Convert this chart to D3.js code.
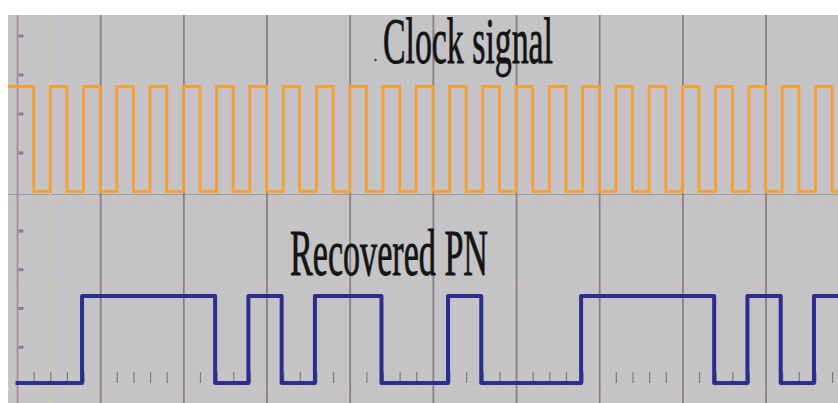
<!DOCTYPE html>
<html><head><meta charset="utf-8">
<script src="https://cdn.jsdelivr.net/npm/d3@7"></script>
<style>html,body{margin:0;padding:0;background:#fff;overflow:hidden}svg{display:block}</style>
</head><body>
<svg id="chart" width="838" height="403"></svg>
<script>
// ---- data (time in clock periods) ----
const clockStartLevel = 1; // level shown before t = 0
const clockLevels = [1,0,1,0,1,0,1,0,1,0, 1,0,1,0,1,0,1,0,1,0,
                     1,0,1,0,1,0,1,0,1,0, 1,0,1,0,1,0,1,0,1,0,
                     1,0,1,0,1,0,1,0,1,0]; // one value per half period from t = 0
const pnBits = [0,0,1,1,1,1,0,1,0,1,1,0,0,1,0,0,0,1,1,1,1,0,1,0,1]; // one per clock period
const gridTimes = [0,2.5,5,7.5,10,12.5,15,17.5,20,22.5,25];
const minorTickTimes = [0.5,1,1.5,2,3,3.5,4,4.5,5.5,6,6.5,7,8,8.5,9,9.5,10.5,11,11.5,12,13,13.5,14,14.5,
                        15.5,16,16.5,17,18,18.5,19,19.5,20.5,21,21.5,22,23,23.5,24,24.5];
const yDivTicks = [1,2,3,4];
const labels = {clock: "Clock signal", pn: "Recovered PN"};

const svg = d3.select("#chart");
const W = 838, H = 403;
const P = {left: 8, top: 15, right: 838, bottom: 403};

const x = d3.scaleLinear().domain([0, 25]).range([17, 17 + 25 * 33.27]);
const yClock = d3.scaleLinear().domain([0, 1]).range([191.5, 86.5]);
const yPN = d3.scaleLinear().domain([0, 1]).range([383, 296]);
const yDivTop = d3.scaleLinear().domain([0, 4]).range([192, 36]);
const yDivBot = d3.scaleLinear().domain([0, 4]).range([386, 231]);

svg.append("rect").attr("width", W).attr("height", H).attr("fill", "#ffffff");
svg.append("defs").append("clipPath").attr("id", "clip")
  .append("rect").attr("x", P.left).attr("y", P.top).attr("width", P.right - P.left).attr("height", P.bottom - P.top);

const g = svg.append("g").attr("clip-path", "url(#clip)");
g.append("rect").attr("x", P.left).attr("y", P.top).attr("width", P.right - P.left).attr("height", P.bottom - P.top)
  .attr("fill", "#c4c4c6");

// faint horizontal marker lines
g.append("line").attr("x1", P.left).attr("x2", P.right).attr("y1", 194.5).attr("y2", 194.5)
  .attr("stroke", "#9c9aa2").attr("stroke-width", 1.2);
g.append("line").attr("x1", P.left).attr("x2", P.right).attr("y1", 200.5).attr("y2", 200.5)
  .attr("stroke", "#dcb88a").attr("stroke-width", 1).attr("stroke-dasharray", "3,3");
g.append("line").attr("x1", P.left).attr("x2", P.right).attr("y1", 282.5).attr("y2", 282.5)
  .attr("stroke", "#cfc4ae").attr("stroke-width", 1);
g.append("line").attr("x1", P.left).attr("x2", P.right).attr("y1", 388.5).attr("y2", 388.5)
  .attr("stroke", "#d9c6c0").attr("stroke-width", 1.2).attr("stroke-dasharray", "3,2");

// dashed yellow cursor
g.append("line").attr("x1", x(1)).attr("x2", x(1)).attr("y1", P.top).attr("y2", P.bottom)
  .attr("stroke", "#d8cc98").attr("stroke-width", 1.6).attr("stroke-dasharray", "4,4");

// vertical grid via axis
const grid = g.append("g").attr("transform", `translate(0,${P.bottom})`)
  .call(d3.axisBottom(x).tickValues(gridTimes).tickSize(-(P.bottom - P.top)).tickFormat(""));
grid.select(".domain").remove();
grid.selectAll(".tick line").attr("stroke", (d) => d === 0 ? "#a88a9a" : "#8e7c88").attr("stroke-width", 1.8);

// minor ticks along bottom of lower panel
const minor = g.append("g").attr("transform", `translate(0,383)`)
  .call(d3.axisBottom(x).tickValues(minorTickTimes).tickSize(-11).tickFormat(""));
minor.select(".domain").remove();
minor.selectAll(".tick line").attr("stroke", "#7a7a80").attr("stroke-width", 1.2);

// left division marks
[[yDivTop], [yDivBot]].forEach(([sc]) => {
  g.selectAll(null).data(yDivTicks).enter().append("rect")
    .attr("x", 18.5).attr("y", d => sc(d) - 1.5).attr("width", 5).attr("height", 3)
    .attr("fill", "#76727a").attr("opacity", 0.85);
});

// clock signal
const clockPts = [{t: -0.5, v: clockStartLevel}].concat(clockLevels.map((v, i) => ({t: i * 0.5, v})));
clockPts.push({t: clockLevels.length * 0.5, v: clockLevels[clockLevels.length - 1]});
g.append("path").datum(clockPts)
  .attr("d", d3.line().x(d => x(d.t)).y(d => yClock(d.v)).curve(d3.curveStepAfter))
  .attr("fill", "none").attr("stroke", "#f4a035").attr("stroke-width", 2.9);

// recovered PN
const pnPts = pnBits.map((v, i) => ({t: i, v}));
pnPts.push({t: pnBits.length, v: pnBits[pnBits.length - 1]});
g.append("path").datum(pnPts)
  .attr("d", d3.line().x(d => x(d.t) - 1.5).y(d => yPN(d.v)).curve(d3.curveStepAfter))
  .attr("fill", "none").attr("stroke", "#2c2e8e").attr("stroke-width", 4).attr("stroke-linejoin", "round");

// labels
const font = "'Liberation Serif','Times New Roman',serif";
svg.append("circle").attr("cx", 375.5).attr("cy", 60).attr("r", 1.3).attr("fill", "#444");
svg.append("text").attr("x", 383).attr("y", 63).text(labels.clock)
  .attr("font-family", font).attr("font-size", 66).attr("fill", "#141414")
  .attr("stroke", "#141414").attr("stroke-width", 0.9)
  .attr("textLength", 170).attr("lengthAdjust", "spacingAndGlyphs");
svg.append("text").attr("x", 290).attr("y", 275).text(labels.pn)
  .attr("font-family", font).attr("font-size", 66).attr("fill", "#141414")
  .attr("stroke", "#141414").attr("stroke-width", 0.9)
  .attr("textLength", 198).attr("lengthAdjust", "spacingAndGlyphs");
</script>
</body></html>
